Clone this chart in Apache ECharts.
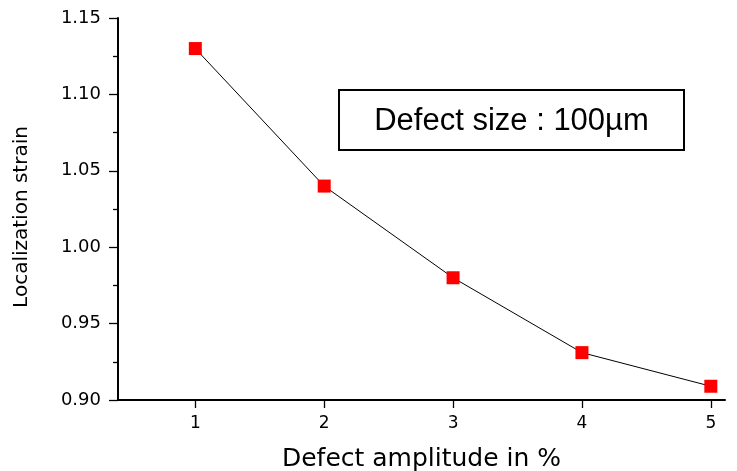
<!DOCTYPE html>
<html>
<head>
<meta charset="utf-8">
<script src="https://cdn.jsdelivr.net/npm/echarts@6/dist/echarts.min.js"></script>
<style>
  html, body { margin: 0; padding: 0; background: #fff; }
  #chart { width: 737px; height: 471px; }
</style>
</head>
<body>
<div id="chart"></div>
<script>
// Data
const amplitudes = [1, 2, 3, 4, 5]
const strains = [1.13, 1.04, 0.98, 0.931, 0.909]
const xTickValues = [1, 2, 3, 4, 5]
const boxText = 'Defect size : 100\u00b5m'

const chart = echarts.init(document.getElementById('chart'))

const axisFont = 'DejaVu Sans'

chart.setOption({
  backgroundColor: '#fff',
  animation: false,
  grid: { left: 118, right: 12, top: 18, bottom: 71, outerBoundsMode: 'none', containLabel: false },
  xAxis: {
    type: 'value',
    min: 0.4,
    max: 5.11,
    name: 'Defect amplitude in %',
    nameLocation: 'middle',
    nameGap: 47,
    nameTextStyle: { fontFamily: axisFont, fontSize: 25, color: '#000' },
    axisLine: { show: true, lineStyle: { color: '#000', width: 2 } },
    axisTick: { show: true, length: 8, customValues: xTickValues, lineStyle: { color: '#000', width: 1.3 } },
    axisLabel: { customValues: xTickValues, margin: 15, fontFamily: axisFont, fontSize: 17, color: '#000' },
    splitLine: { show: false }
  },
  yAxis: {
    type: 'value',
    min: 0.9,
    max: 1.15,
    interval: 0.05,
    name: 'Localization strain',
    nameLocation: 'middle',
    nameGap: 86,
    nameTextStyle: { fontFamily: axisFont, fontSize: 20, color: '#000', padding: [0, 0, 0, -16] },
    axisLine: { show: true, lineStyle: { color: '#000', width: 2 } },
    axisTick: { show: true, length: 9, lineStyle: { color: '#000', width: 1.3 } },
    minorTick: { show: true, splitNumber: 2, length: 5, lineStyle: { color: '#000', width: 1.3 } },
    axisLabel: {
      margin: 17,
      fontFamily: axisFont,
      fontSize: 18,
      color: '#000',
      formatter: v => v.toFixed(2)
    },
    splitLine: { show: false },
    minorSplitLine: { show: false }
  },
  graphic: [{
    type: 'group',
    left: 338,
    top: 89,
    children: [{
      type: 'rect',
      shape: { x: 0, y: 0, width: 345, height: 60 },
      style: { fill: '#fff', stroke: '#000', lineWidth: 2 }
    }, {
      type: 'text',
      x: 172.5,
      y: 31,
      style: {
        text: boxText,
        fontFamily: 'Liberation Sans',
        fontSize: 31,
        fill: '#000',
        align: 'center',
        verticalAlign: 'middle'
      }
    }]
  }],
  series: [{
    type: 'line',
    data: amplitudes.map((a, i) => [a, strains[i]]),
    symbol: 'rect',
    symbolSize: 13,
    itemStyle: { color: '#ff0000' },
    lineStyle: { color: '#000', width: 1 }
  }]
})
</script>
</body>
</html>
